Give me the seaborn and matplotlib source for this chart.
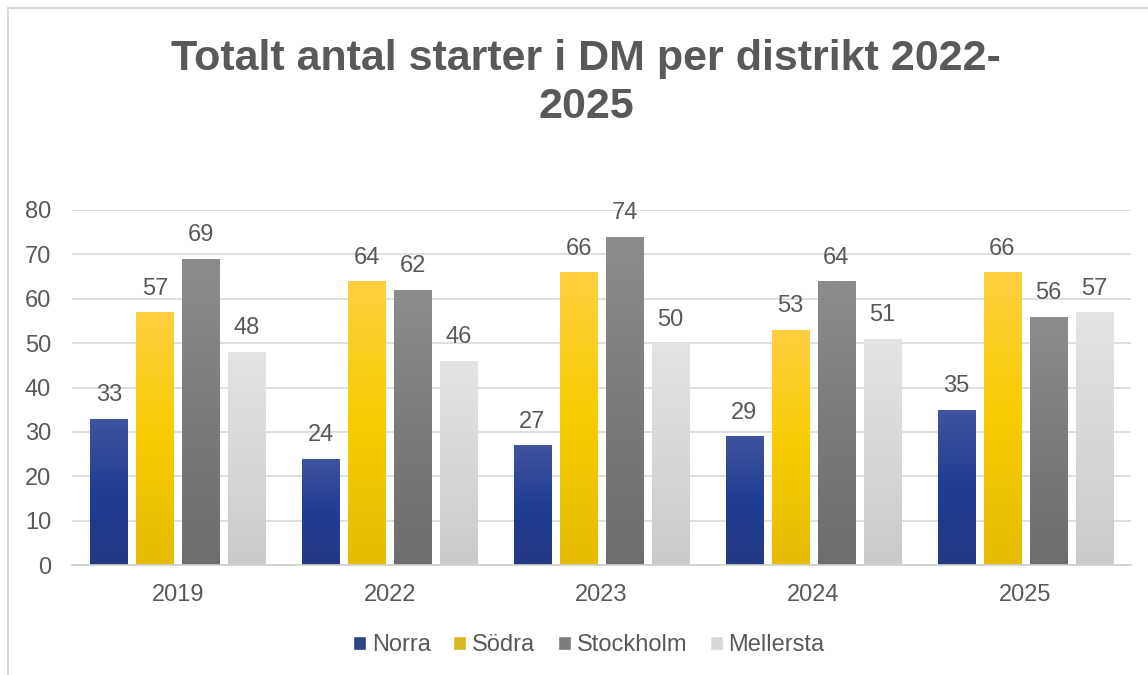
import numpy as np
import pandas as pd
import seaborn as sns
import matplotlib.pyplot as plt
from matplotlib.colors import LinearSegmentedColormap

years = ['2019', '2022', '2023', '2024', '2025']
districts = ['Norra', 'Södra', 'Stockholm', 'Mellersta']
norra = [33, 24, 27, 29, 35]
sodra = [57, 64, 66, 53, 66]
stockholm = [69, 62, 74, 64, 56]
mellersta = [48, 46, 50, 51, 57]

df = pd.DataFrame({
    'År': years * 4,
    'Distrikt': [d for d in districts for _ in years],
    'Starter': norra + sodra + stockholm + mellersta,
})

base = ['#203c90', '#f8cb00', '#7c7c7c', '#d8d8d8']
# gradient top -> middle -> bottom (Excel style fill)
grads = [
    ['#41539f', '#1f3d92', '#243985'],
    ['#ffcf40', '#f8cc00', '#e6bc05'],
    ['#8c8c8c', '#7b7b7b', '#6e6e6e'],
    ['#e4e4e4', '#d8d8d8', '#cacaca'],
]
txt = '#595959'
fs = 17

sns.set_style('white')
plt.rcParams['font.family'] = ['Liberation Sans', 'DejaVu Sans']

fig = plt.figure(figsize=(11.48, 6.75), dpi=100)
ax = fig.add_axes([72 / 1148, 1 - 565 / 675, (1131 - 72) / 1148, (565 - 210) / 675])

sns.barplot(data=df, x='År', y='Starter', hue='Distrikt', palette=base,
            width=0.868, ax=ax, legend=True)

shrink = 0.806
for i, cont in enumerate(ax.containers):
    cmap = LinearSegmentedColormap.from_list('g%d' % i, grads[i][::-1])
    for p in cont.patches:
        w = p.get_width()
        p.set_x(p.get_x() + w * (1 - shrink) / 2)
        p.set_width(w * shrink)
        p.set_edgecolor('none')
        x0, w, h = p.get_x(), p.get_width(), p.get_height()
        grad = np.linspace(0, 1, 256).reshape(-1, 1)
        im = ax.imshow(grad, cmap=cmap, aspect='auto', origin='lower',
                       extent=[x0, x0 + w, 0, h], zorder=p.get_zorder() + 0.1)
        im.set_clip_path(p)
    ax.bar_label(cont, padding=9, fontsize=fs, color=txt)

ax.set_xlim(-0.5, 4.5)
ax.set_ylim(0, 80)
ax.set_yticks(range(0, 81, 10))
ax.yaxis.grid(True, color='#d9d9d9', linewidth=1.2)
ax.set_axisbelow(True)
sns.despine(ax=ax, left=True, top=True, right=True)
ax.spines['bottom'].set_color('#d0d0d0')
ax.spines['bottom'].set_linewidth(1.2)
ax.tick_params(axis='both', length=0, labelsize=fs, labelcolor=txt)
ax.tick_params(axis='y', pad=15)
ax.tick_params(axis='x', pad=14)
ax.set_xlabel('')
ax.set_ylabel('')

handles, labels = ax.get_legend_handles_labels()
ax.legend(handles, labels, loc='center', bbox_to_anchor=(589 / 1148, 1 - 645 / 675),
          bbox_transform=fig.transFigure, ncol=4, frameon=False, fontsize=fs,
          labelcolor=txt, handlelength=0.55, handleheight=0.55, handletextpad=0.25,
          columnspacing=0.95)

fig.text(586 / 1148, 1 - 83 / 675, 'Totalt antal starter i DM per distrikt 2022-\n2025',
         ha='center', va='center', fontsize=31, fontweight='bold', color=txt,
         linespacing=1.25)

# chart area border
fig.add_artist(plt.Line2D([8 / 1148, 8 / 1148], [0, 1 - 8 / 675], transform=fig.transFigure,
                          color='#d9d9d9', linewidth=1.5))
fig.add_artist(plt.Line2D([8 / 1148, 1], [1 - 8 / 675, 1 - 8 / 675], transform=fig.transFigure,
                          color='#d9d9d9', linewidth=1.5))

fig.savefig('out.png', dpi=100)
